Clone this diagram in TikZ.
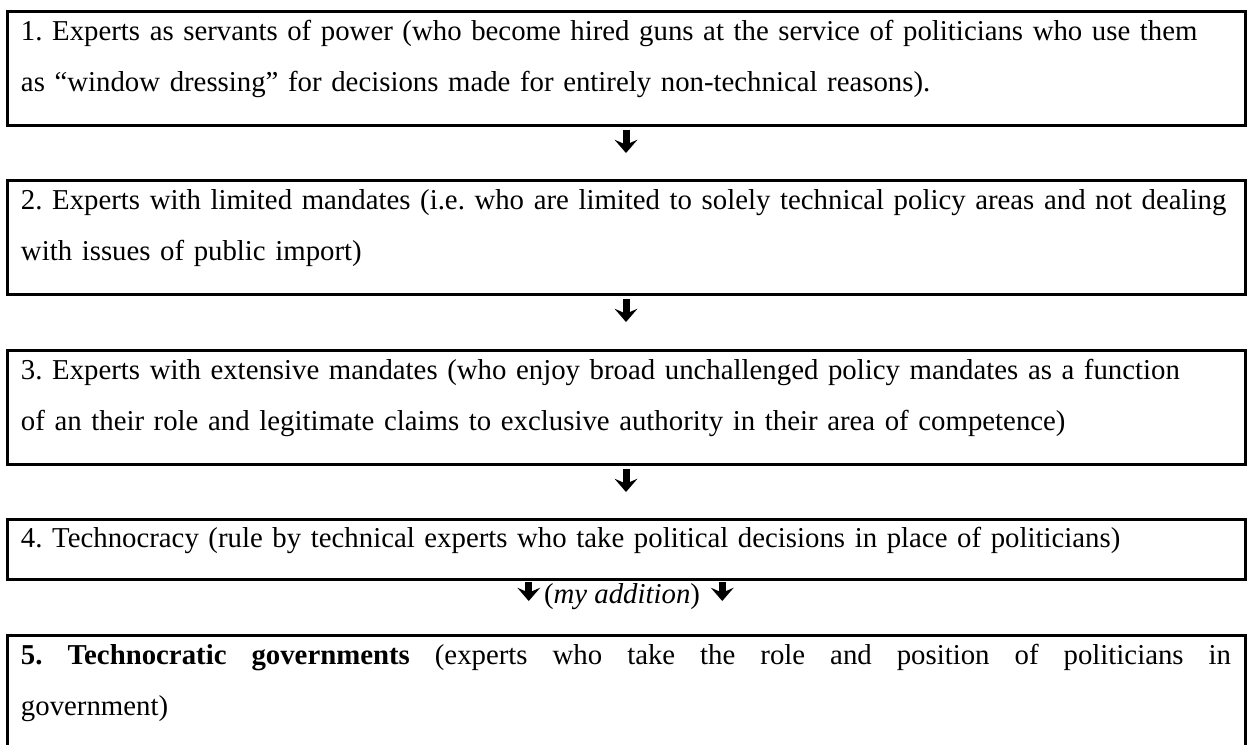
\documentclass[tikz,border=0pt]{standalone}
\usepackage{fontspec}
\setmainfont{Liberation Serif}
\usetikzlibrary{arrows.meta}
\frenchspacing
\hyphenpenalty=10000
\newcommand{\bstrut}{\rule[-21pt]{0pt}{38.25pt}}
\tikzset{
  stagebox/.style={draw, line width=2.25pt, anchor=north, text width=907.5pt,
    inner xsep=10.5pt, inner ysep=4.5pt, align=left,
    font=\fontsize{21.6}{38.25}\selectfont},
  downarrow/.style={line width=5.25pt,
    -{Stealth[length=10pt,width=17.25pt,inset=3.75pt,line width=0pt]},
    shorten <=2.25pt}
}
\begin{document}
\begin{tikzpicture}[x=0.75pt,y=-0.75pt]
\useasboundingbox (0,0) rectangle (1248,744);
%
\node[stagebox] (b1) at (626,10) {\bstrut 1. Experts as servants of power (who become hired guns at the service of politicians who use them\\ as “window dressing” for decisions made for entirely non-technical reasons).\bstrut};
\node[stagebox] (b2) at (626,179) {\bstrut 2. Experts with limited mandates (i.e. who are limited to solely technical policy areas and not dealing\\ with issues of public import)\bstrut};
\node[stagebox] (b3) at (626,349) {\bstrut 3. Experts with extensive mandates (who enjoy broad unchallenged policy mandates as a function\\ of an their role and legitimate claims to exclusive authority in their area of competence)\bstrut};
\node[stagebox, inner ysep=3.4pt] (b4) at (626,518) {\bstrut 4. Technocracy (rule by technical experts who take political decisions in place of politicians)\bstrut};
\node[stagebox, align=justify] (b5) at (626,634) {\bstrut\textbf{5. Technocratic governments} (experts who take the role and position of politicians in\linebreak government)\bstrut};
%
\node[anchor=base, inner sep=0pt, font=\fontsize{21.6}{26}\selectfont] (note) at (622,603) {(\textit{my addition})};
%
\draw[downarrow, shorten >=19.5pt] (b1.south) -- (b2.north);
\draw[downarrow, shorten >=20.25pt] (b2.south) -- (b3.north);
\draw[downarrow, shorten >=19.5pt] (b3.south) -- (b4.north);
\draw[downarrow, shorten <=0.75pt, shorten >=24.75pt] ([xshift=-11.25pt]note.west |- b4.south) -- ([xshift=-11.25pt]note.west |- b5.north);
\draw[downarrow, shorten <=0.75pt, shorten >=24.75pt] ([xshift=16.5pt]note.east |- b4.south) -- ([xshift=16.5pt]note.east |- b5.north);
%
\end{tikzpicture}
\end{document}
